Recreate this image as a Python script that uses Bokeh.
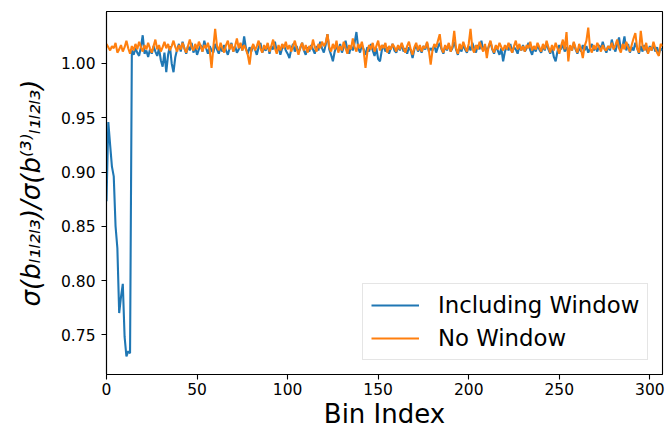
from bokeh.plotting import figure
from bokeh.models import Range1d, Legend, LegendItem, FixedTicker, NumeralTickFormatter
from bokeh.embed import file_html
from bokeh.resources import INLINE

# ---------------- data ----------------
including_window = [
    0.873, 0.946, 0.925, 0.905, 0.896, 0.850, 0.830, 0.770, 0.785, 0.797,
    0.748, 0.730, 0.735, 0.733,
    1.012, 1.008, 1.014, 1.010, 1.007, 1.015, 1.026, 1.009, 1.012, 1.006,
    1.013, 1.009, 1.016, 1.011, 1.007, 1.014, 1.003, 0.997, 1.010, 0.992,
    1.008, 1.016, 1.000, 0.992, 1.006, 1.013,
    1.018, 1.011, 1.020, 1.014, 1.009, 1.016, 1.012, 1.019, 1.010, 1.015,
    1.008, 1.013, 1.017, 1.011, 1.021, 1.014, 1.009, 1.016, 1.012, 1.010,
    1.018, 1.013, 1.009, 1.015, 1.011, 1.017, 1.012, 1.008, 1.014, 1.019,
    1.011, 1.016, 1.010, 1.013, 1.018, 1.012, 1.025, 1.014, 1.009, 1.015,
    1.011, 1.017, 1.013, 1.008, 1.015, 1.019, 1.010, 1.014, 1.012, 1.018,
    1.009, 1.016, 1.013, 1.020, 1.011, 1.015, 1.008, 1.014, 1.017, 1.012,
    1.009, 1.005, 1.013, 1.018, 1.011, 1.016, 1.010, 1.014, 1.019, 1.012,
    1.008, 1.015, 1.011, 1.017, 1.013, 1.009, 1.016, 1.012, 1.020, 1.014,
    1.010, 1.017, 1.027, 1.013, 1.008, 1.002, 1.011, 1.016, 1.012, 1.018,
    1.010, 1.015, 1.021, 1.013, 1.009, 1.016, 1.012, 1.019, 1.029, 1.014,
    1.010, 1.017, 1.013, 1.008, 1.015, 1.011, 1.018, 1.012, 1.007, 1.014,
    1.004, 1.002, 1.012, 1.017, 1.011, 1.015, 1.009, 1.014, 1.018, 1.012,
    1.010, 1.016, 1.012, 1.018, 1.011, 1.014, 1.009, 1.015, 1.012, 1.005,
    1.013, 1.017, 1.011, 1.015, 1.010, 1.016, 1.013, 1.019, 1.011, 1.014,
    1.012, 1.017, 1.010, 1.015, 1.019, 1.013, 1.009, 1.016, 1.012, 1.018,
    1.011, 1.014, 1.020, 1.013, 1.008, 1.015, 1.011, 1.017, 1.013, 1.010,
    1.016, 1.012, 1.019, 1.014, 1.010, 1.017, 1.013, 1.021, 1.012, 1.016,
    1.011, 1.015, 1.020, 1.013, 1.009, 1.016, 1.012, 1.008, 1.014, 1.002,
    1.011, 1.016, 1.012, 1.018, 1.010, 1.015, 1.013, 1.009, 1.016, 1.012,
    1.017, 1.011, 1.014, 1.019, 1.012, 1.008, 1.015, 1.011, 1.017, 1.013,
    1.010, 1.016, 1.012, 1.019, 1.013, 1.009, 1.015, 1.006, 1.002, 1.011,
    1.017, 1.013, 1.018, 1.011, 1.015, 1.010, 1.016, 1.012, 1.019, 1.013,
    1.009, 1.015, 1.011, 1.017, 1.012, 1.016, 1.010, 1.014, 1.018, 1.012,
    1.015, 1.011, 1.017, 1.013, 1.020, 1.014, 1.010, 1.016, 1.012, 1.022,
    1.015, 1.011, 1.018, 1.024, 1.013, 1.016, 1.025, 1.012, 1.018, 1.010,
    1.015, 1.012, 1.019, 1.014, 1.009, 1.016, 1.011, 1.017, 1.013, 1.010,
    1.016, 1.012, 1.018, 1.011, 1.015, 1.009, 1.014, 1.012,
]

no_window = [
    1.018, 1.015, 1.012, 1.016, 1.014, 1.019, 1.010, 1.013, 1.017, 1.011,
    1.015, 1.021, 1.014, 1.009, 1.016, 1.012, 1.018, 1.013, 1.020, 1.015,
    1.011, 1.017, 1.013, 1.019, 1.014, 1.010, 1.016, 1.022, 1.013, 1.017,
    1.011, 1.015, 1.020, 1.014, 1.018, 1.012, 1.016, 1.021, 1.015, 1.011,
    1.017, 1.013, 1.019, 1.014, 1.010, 1.016, 1.022, 1.015, 1.012, 1.018,
    1.013, 1.020, 1.016, 1.011, 1.017, 1.014, 1.019, 1.012, 0.996, 1.015,
    1.032, 1.016, 1.012, 1.019, 1.014, 1.010, 1.017, 1.021, 1.013, 1.018,
    1.011, 1.016, 1.023, 1.014, 1.019, 1.012, 1.017, 1.013, 1.008, 0.999,
    1.013, 1.018, 1.012, 1.016, 1.021, 1.014, 1.010, 1.017, 1.013, 1.019,
    1.011, 1.016, 1.022, 1.014, 1.009, 1.017, 1.012, 1.018, 1.014, 1.020,
    1.013, 1.017, 1.011, 1.016, 1.021, 1.014, 1.008, 1.015, 1.019, 1.012,
    1.017, 1.010, 1.016, 1.013, 1.022, 1.015, 1.011, 1.018, 1.014, 1.020,
    1.016, 1.019, 1.027, 1.015, 1.011, 1.018, 1.013, 1.021, 1.010, 1.016,
    1.012, 1.020, 1.014, 1.009, 1.017, 1.013, 1.023, 1.015, 1.011, 1.018,
    1.014, 1.020, 1.012, 0.996, 1.010, 1.017, 1.013, 1.019, 1.011, 1.016,
    1.021, 1.012, 1.017, 1.014, 1.019, 1.010, 1.016, 1.013, 1.018, 1.015,
    1.011, 1.017, 1.013, 1.019, 1.014, 1.010, 1.016, 1.020, 1.013, 1.008,
    1.015, 1.019, 1.012, 1.017, 1.011, 1.016, 1.014, 1.020, 1.012, 0.999,
    1.012, 1.018, 1.015, 1.021, 1.027, 1.014, 1.010, 1.017, 1.013, 1.019,
    1.011, 1.016, 1.030, 1.014, 1.009, 1.018, 1.013, 1.020, 1.015, 1.011,
    1.018, 1.032, 1.014, 1.010, 1.017, 1.013, 1.020, 1.015, 1.011, 1.018,
    1.005, 1.016, 1.021, 1.014, 1.010, 1.017, 1.013, 1.019, 1.015, 1.012,
    1.017, 1.013, 1.019, 1.014, 1.010, 1.016, 1.021, 1.013, 1.018, 1.012,
    1.016, 1.011, 1.017, 1.014, 1.020, 1.012, 1.016, 1.013, 1.019, 1.015,
    1.011, 1.018, 1.013, 1.021, 1.015, 1.010, 1.017, 1.012, 1.019, 1.014,
    1.009, 1.016, 1.022, 1.013, 1.029, 1.002, 1.017, 1.012, 1.020, 1.014,
    1.010, 1.018, 1.013, 1.005, 1.016, 1.021, 1.033, 1.014, 1.010, 1.017,
    1.013, 1.019, 1.015, 1.011, 1.017, 1.013, 1.012, 1.016, 1.014, 1.019,
    1.013, 1.017, 1.022, 1.014, 1.010, 1.018, 1.013, 1.020, 1.015, 1.011,
    1.017, 1.023, 1.028, 1.014, 1.010, 1.030, 1.016, 1.012, 1.019, 1.009,
    1.015, 1.012, 1.020, 1.014, 1.010, 1.007, 1.018, 1.016,
]

series_labels = ["Including Window", "No Window"]
x_ticks = [0, 50, 100, 150, 200, 250, 300]
y_ticks = [0.75, 0.80, 0.85, 0.90, 0.95, 1.00]
x_label = "Bin Index"
y_label = "σ(bₗ₁ₗ₂ₗ₃)/σ(b⁽³⁾ₗ₁ₗ₂ₗ₃)"

# ---------------- layout ----------------
FONT = "DejaVu Sans"

p = figure(frame_width=556, frame_height=363, output_backend="svg", toolbar_location=None,
           x_range=Range1d(0, 307), y_range=Range1d(0.7134, 1.0479),
           min_border_left=106, min_border_top=11, min_border_right=3, min_border_bottom=54)
p.background_fill_color = "white"
p.border_fill_color = "white"
p.outline_line_color = "black"
p.outline_line_width = 1.1
p.xgrid.visible = False
p.ygrid.visible = False

r1 = p.line(list(range(len(including_window))), including_window,
            line_color="#1f77b4", line_width=2.1)
r2 = p.line(list(range(len(no_window))), no_window,
            line_color="#ff7f0e", line_width=2.1)

for ax in (p.xaxis[0], p.yaxis[0]):
    ax.axis_line_color = "black"
    ax.axis_line_width = 1.1
    ax.major_tick_line_color = "black"
    ax.major_tick_line_width = 1.1
    ax.major_tick_out = 5
    ax.major_tick_in = 0
    ax.minor_tick_line_color = None
    ax.major_label_text_font = FONT
    ax.major_label_text_font_size = "15.5px"
    ax.major_label_text_color = "black"
    ax.axis_label_text_font = FONT
    ax.axis_label_text_color = "black"
    ax.axis_label_text_font_style = "normal"

p.xaxis.ticker = FixedTicker(ticks=x_ticks)
p.yaxis.ticker = FixedTicker(ticks=y_ticks)
p.yaxis.formatter = NumeralTickFormatter(format="0.00")
p.xaxis.major_label_standoff = 3
p.yaxis.major_label_standoff = 6

p.xaxis.axis_label = x_label
p.xaxis.axis_label_text_font_size = "26px"
p.xaxis.axis_label_standoff = 1

p.yaxis.axis_label = y_label
p.yaxis.axis_label_text_font_size = "26px"
p.yaxis.axis_label_text_font_style = "italic"
p.yaxis.axis_label_standoff = 12

legend = Legend(items=[LegendItem(label=series_labels[0], renderers=[r1]),
                       LegendItem(label=series_labels[1], renderers=[r2])],
                location=(256, 14))
legend.label_text_font = FONT
legend.label_text_font_size = "22.8px"
legend.label_text_color = "black"
legend.glyph_width = 48
legend.glyph_height = 24
legend.label_height = 24
legend.label_standoff = 19
legend.padding = 8
legend.spacing = 7
legend.margin = 0
legend.border_line_color = "#cccccc"
legend.border_line_width = 1
legend.background_fill_alpha = 0.8
p.add_layout(legend, "center")

open("out.html", "w").write(file_html(p, INLINE))
